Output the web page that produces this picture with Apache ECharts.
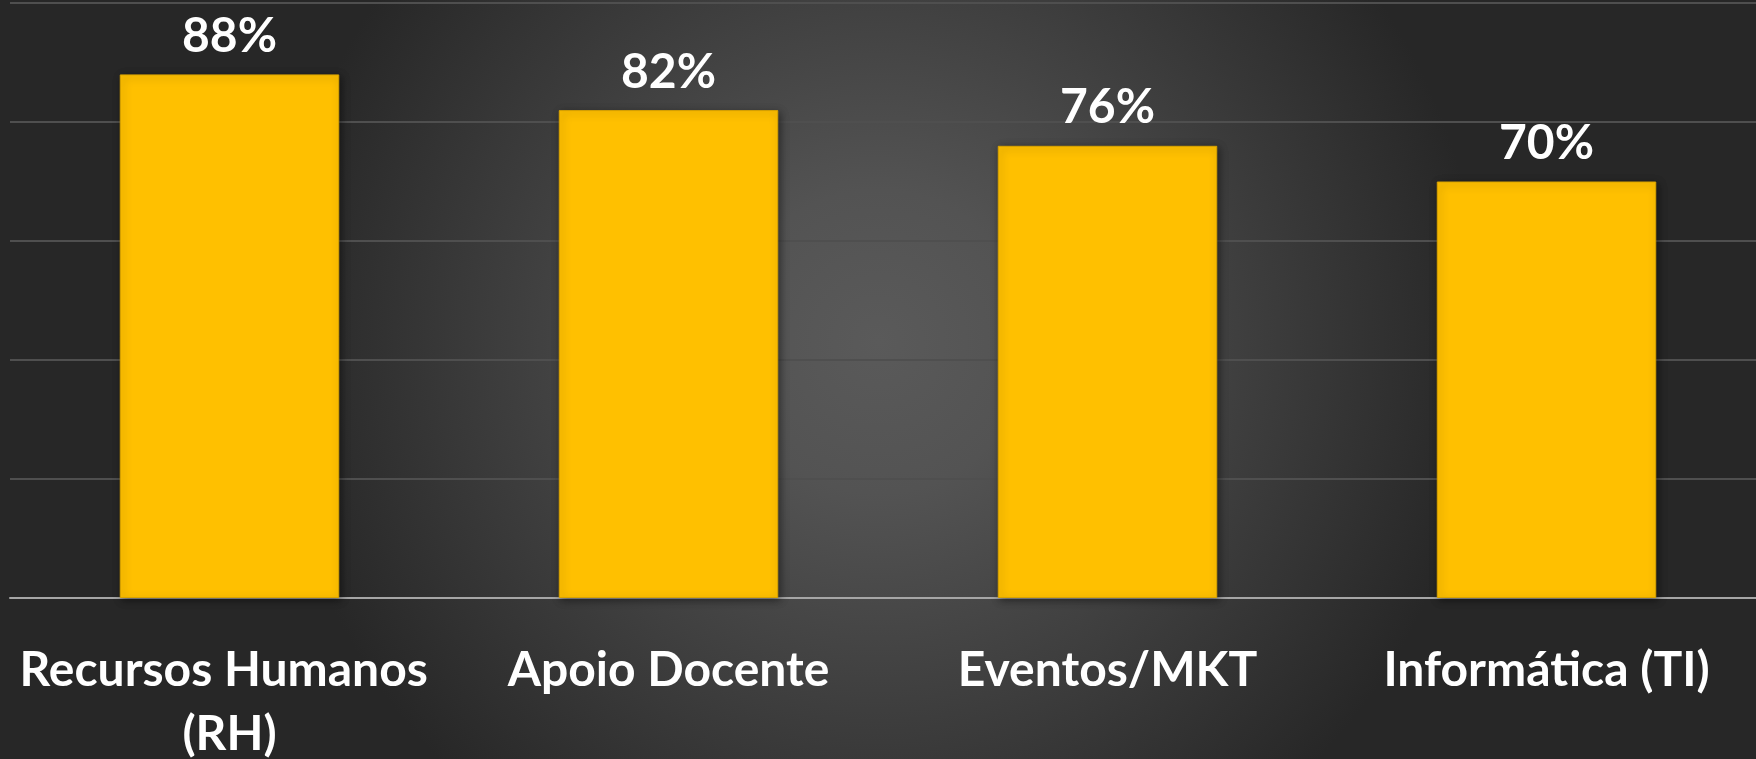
<!DOCTYPE html>
<html>
<head>
<meta charset="utf-8">
<script src="https://cdn.jsdelivr.net/npm/echarts@6/dist/echarts.min.js"></script>
<style>
    html, body { margin: 0; padding: 0; }
    #chart { width: 1756px; height: 759px; }
</style>
</head>
<body>
<div id="chart"></div>
<script>
// chart data
const categories = ['Recursos Humanos (RH)', 'Apoio Docente', 'Eventos/MKT', 'Informática (TI)'];
const values = [88, 82, 76, 70];

const barColor = '#FFC000';
const fontName = 'Lato';

const chart = echarts.init(document.getElementById('chart'));

chart.setOption({
    backgroundColor: new echarts.graphic.RadialGradient(0.5, 0.45, 0.8, [
        { offset: 0, color: '#5a5a5a' },
        { offset: 0.25, color: '#535353' },
        { offset: 1, color: '#272727' }
    ]),
    animation: false,
    grid: {
        left: 10,
        width: 1756,
        top: 3,
        bottom: 161,
        containLabel: false,
        outerBoundsMode: 'none'
    },
    xAxis: {
        type: 'category',
        data: categories,
        axisTick: { show: false },
        axisLine: {
            lineStyle: { color: '#a6a6a6', width: 2 }
        },
        axisLabel: {
            color: '#ffffff',
            fontFamily: fontName,
            fontWeight: 'bold',
            fontSize: 48,
            lineHeight: 64,
            margin: 41,
            width: 430,
            overflow: 'break',
            interval: 0
        }
    },
    yAxis: {
        type: 'value',
        min: 0,
        max: 100,
        interval: 20,
        axisLabel: { show: false },
        axisLine: { show: false },
        axisTick: { show: false },
        splitLine: {
            lineStyle: { color: '#4f4f4f', width: 2 }
        }
    },
    series: [{
        type: 'bar',
        data: values,
        barWidth: '50%',
        itemStyle: {
            color: barColor,
            borderColor: '#d9a300',
            borderWidth: 1,
            shadowColor: 'rgba(0,0,0,0.45)',
            shadowBlur: 8,
            shadowOffsetX: 2,
            shadowOffsetY: 2
        },
        label: {
            show: true,
            position: 'top',
            distance: 14,
            color: '#ffffff',
            fontFamily: fontName,
            fontWeight: 'bold',
            fontSize: 48,
            formatter: '{c}%'
        }
    }]
});
</script>
</body>
</html>
